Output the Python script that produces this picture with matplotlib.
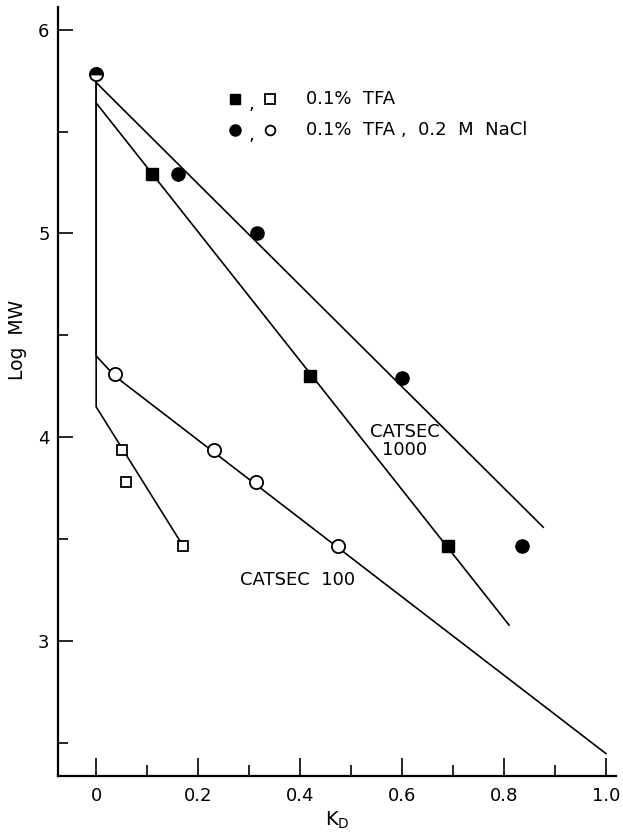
import matplotlib
matplotlib.use("Agg")
import matplotlib.pyplot as plt
from matplotlib.ticker import MultipleLocator

# data (K_D vs log MW)
kd_start, logmw_start = [0.0], [5.78]   # shared excluded point, half filled

kd_tfa_1000 = [0.11, 0.42, 0.69]          # filled squares
logmw_tfa_1000 = [5.29, 4.30, 3.47]

kd_nacl_1000 = [0.16, 0.315, 0.60, 0.835]  # filled circles
logmw_nacl_1000 = [5.29, 5.00, 4.29, 3.47]

kd_tfa_100 = [0.051, 0.059, 0.17]          # open squares
logmw_tfa_100 = [3.94, 3.78, 3.47]

kd_nacl_100 = [0.037, 0.232, 0.313, 0.475]  # open circles
logmw_nacl_100 = [4.31, 3.94, 3.78, 3.47]

# hand drawn calibration lines
line_nacl_1000_x = [0.0, 0.877]
line_nacl_1000_y = [5.74, 3.56]
line_tfa_1000_x = [0.0, 0.81]
line_tfa_1000_y = [5.64, 3.08]
line_tfa_100_x = [0.0, 0.0, 0.17]
line_tfa_100_y = [5.74, 4.15, 3.47]
line_nacl_100_x = [0.0, 0.0, 0.037, 1.0]
line_nacl_100_y = [5.74, 4.40, 4.30, 2.45]

plt.rcParams['font.family'] = ['DejaVu Sans']

fig = plt.figure(figsize=(6.23, 8.34), dpi=100)
ax = fig.add_axes([0.093, 0.0695, 0.896, 0.922])

lw = 1.2
for x, y in [(line_nacl_1000_x, line_nacl_1000_y), (line_tfa_1000_x, line_tfa_1000_y),
             (line_tfa_100_x, line_tfa_100_y), (line_nacl_100_x, line_nacl_100_y)]:
    ax.plot(x, y, color='black', lw=lw, zorder=1)

ax.plot(kd_tfa_1000, logmw_tfa_1000, 's', color='black', ms=8, zorder=3)
ax.plot(kd_nacl_1000, logmw_nacl_1000, 'o', color='black', ms=9.5, zorder=3)
ax.plot(kd_tfa_100, logmw_tfa_100, 's', mfc='white', mec='black', mew=1.3, ms=7.5, zorder=3)
ax.plot(kd_nacl_100, logmw_nacl_100, 'o', mfc='white', mec='black', mew=1.3, ms=9.5, zorder=3)
ax.plot(kd_start, logmw_start, 'o', fillstyle='top', color='black', mfc='black',
        mfcalt='white', mec='black', mew=1.3, ms=9.5, zorder=3)

# legend drawn by hand, like the original
tr = ax.transAxes
ax.plot([0.317], [0.880], 's', color='black', ms=7.5, transform=tr, clip_on=False)
ax.plot([0.380], [0.880], 's', mfc='white', mec='black', mew=1.3, ms=6.5, transform=tr, clip_on=False)
ax.plot([0.317], [0.840], 'o', color='black', ms=8, transform=tr, clip_on=False)
ax.plot([0.380], [0.840], 'o', mfc='white', mec='black', mew=1.3, ms=7, transform=tr, clip_on=False)
ax.text(0.346, 0.874, ',', transform=tr, fontsize=13, ha='center', va='center')
ax.text(0.346, 0.834, ',', transform=tr, fontsize=13, ha='center', va='center')
ax.text(0.444, 0.880, '0.1%  TFA', transform=tr, fontsize=13, ha='left', va='center')
ax.text(0.444, 0.840, '0.1%  TFA ,  0.2  M  NaCl', transform=tr, fontsize=13,
        ha='left', va='center')

ax.text(0.605, 3.985, 'CATSEC\n1000', fontsize=13, ha='center', va='center', linespacing=1.0)
ax.text(0.395, 3.30, 'CATSEC  100', fontsize=13, ha='center', va='center')

ax.set_xlim(-0.075, 1.02)
ax.set_ylim(2.34, 6.11)
ax.xaxis.set_major_locator(MultipleLocator(0.2))
ax.xaxis.set_minor_locator(MultipleLocator(0.1))
ax.yaxis.set_major_locator(MultipleLocator(1))
ax.yaxis.set_minor_locator(MultipleLocator(0.5))
ax.set_xticks([0, 0.2, 0.4, 0.6, 0.8, 1.0])
ax.set_xticklabels(['0', '0.2', '0.4', '0.6', '0.8', '1.0'])
ax.set_yticks([3, 4, 5, 6])

for s in ['top', 'right']:
    ax.spines[s].set_visible(False)
for s in ['left', 'bottom']:
    ax.spines[s].set_linewidth(1.6)

ax.tick_params(axis='x', which='major', direction='in', length=13, width=1.2, labelsize=13, pad=8)
ax.tick_params(axis='x', which='minor', direction='in', length=8, width=1.2)
ax.tick_params(axis='y', which='major', direction='in', length=11, width=1.2, labelsize=13, pad=6)
ax.tick_params(axis='y', which='minor', direction='in', length=7, width=1.2)

ax.set_xlabel(r'K$_\mathrm{D}$', fontsize=14, labelpad=3)
ax.set_ylabel('Log  MW', fontsize=13.5, labelpad=6)
ax.yaxis.set_label_coords(-0.056, 0.567)

fig.savefig('out.png', dpi=100)
